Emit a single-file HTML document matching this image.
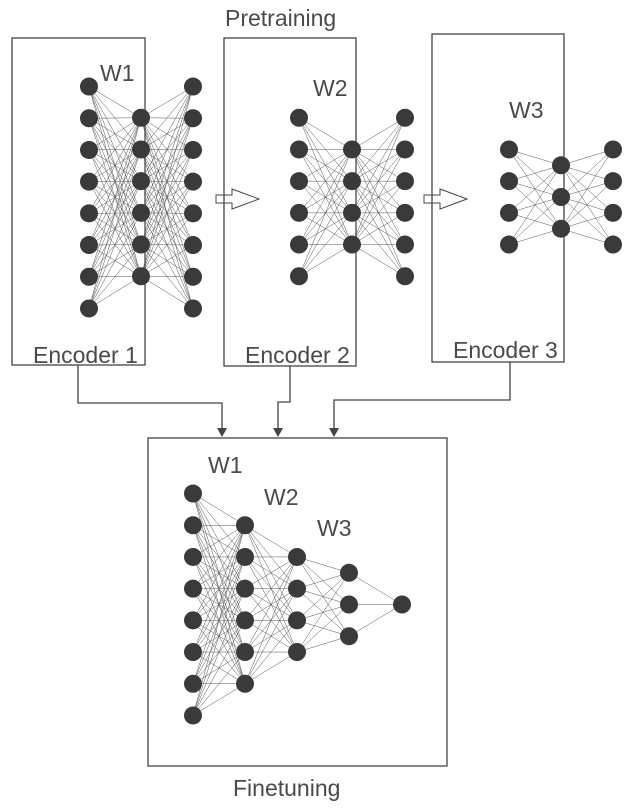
<!DOCTYPE html>
<html><head><meta charset="utf-8"><style>
html,body{margin:0;padding:0;background:#fff;}
svg{display:block;}
text{font-family:"Liberation Sans",sans-serif;fill:#4a4a4a;}
</style></head><body>
<svg id="s" width="629" height="810" viewBox="0 0 629 810" xmlns="http://www.w3.org/2000/svg">
<g fill="none" stroke="#444" stroke-width="1.3">
<rect x="12" y="38" width="133" height="327"/>
<rect x="224" y="38" width="132" height="328"/>
<rect x="432" y="34" width="132" height="328"/>
<rect x="148" y="438" width="299" height="328"/>
<path d="M78 365 V403 H222 V430"/>
<path d="M290 366 V402 H278 V430"/>
<path d="M510 362 V400 H334 V430"/>
<path d="M216 195 H232 V189 L259 199 L232 209 V203 H216 Z" stroke-width="1"/>
<path d="M424 195 H440 V189 L467 199 L440 209 V203 H424 Z" stroke-width="1"/>
</g>
<g fill="#444">
<path d="M217 428 L222 437 L227 428 Z"/>
<path d="M273 428 L278 437 L283 428 Z"/>
<path d="M329 428 L334 437 L339 428 Z"/>
</g>
<g id="edges" stroke="#555" stroke-width="0.5"></g>
<g id="nodes" fill="#3a3a3a"></g>
<g font-size="23">
<text x="225" y="26">Pretraining</text>
<text x="100" y="81">W1</text>
<text x="313" y="96">W2</text>
<text x="509" y="118">W3</text>
<text x="33" y="363">Encoder 1</text>
<text x="245" y="363">Encoder 2</text>
<text x="453" y="358">Encoder 3</text>
<text x="208" y="473">W1</text>
<text x="264" y="505">W2</text>
<text x="317" y="536">W3</text>
<text x="233" y="796">Finetuning</text>
</g>
</svg>
<script>
var NS="http://www.w3.org/2000/svg",E=document.getElementById('edges'),N=document.getElementById('nodes');
function col(x,n,c,st){var a=[];for(var i=0;i<n;i++)a.push([x,c+(i-(n-1)/2)*st]);return a;}
function net(layers){
 for(var l=0;l<layers.length-1;l++)for(var a of layers[l])for(var b of layers[l+1]){
  var e=document.createElementNS(NS,'line');e.setAttribute('x1',a[0]);e.setAttribute('y1',a[1]);e.setAttribute('x2',b[0]);e.setAttribute('y2',b[1]);E.appendChild(e);}
 for(var L of layers)for(var p of L){var c=document.createElementNS(NS,'circle');c.setAttribute('cx',p[0]);c.setAttribute('cy',p[1]);c.setAttribute('r',9);N.appendChild(c);}
}
var st=31.7;
net([col(89,8,197.5,st),col(141,6,197,st),col(193,8,197.5,st)]);
net([col(299,6,197,st),col(352,4,197,st),col(405,6,197,st)]);
net([col(509,4,197,st),col(561,3,197,st),col(613,4,197,st)]);
net([col(193,8,604.5,st),col(245,6,604.5,st),col(297,4,604.5,st),col(349,3,604.5,st),col(402,1,604.5,st)]);
</script>
</body></html>
